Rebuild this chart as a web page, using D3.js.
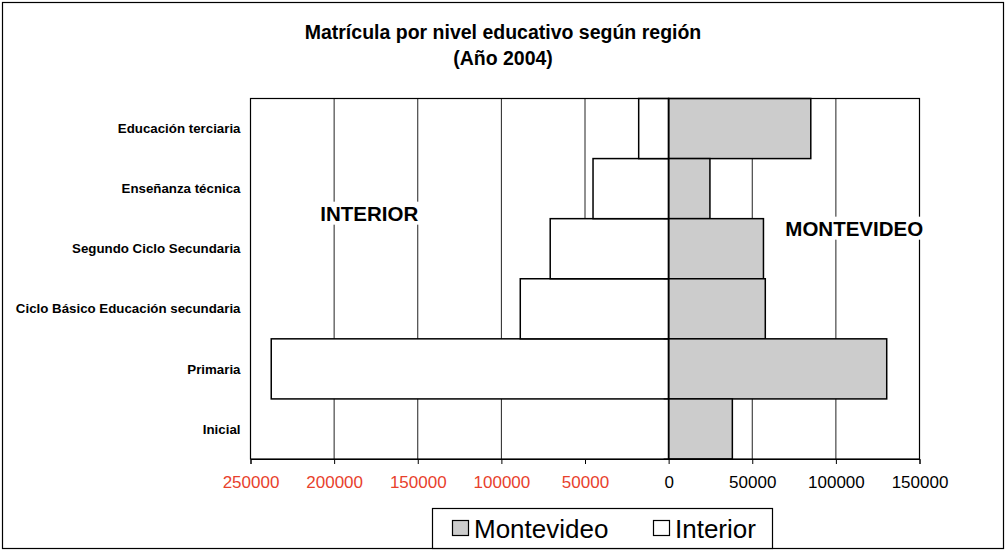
<!DOCTYPE html>
<html>
<head>
<meta charset="utf-8">
<script src="https://cdn.jsdelivr.net/npm/d3@7"></script>
<style>
  body { margin: 0; background: #fff; }
  svg { display: block; font-family: Arial, "Liberation Sans", sans-serif; }
</style>
</head>
<body>
<div id="chart"></div>
<script>
// categories, top to bottom
var niveles = ["Educación terciaria", "Enseñanza técnica", "Segundo Ciclo Secundaria",
  "Ciclo Básico Educación secundaria", "Primaria", "Inicial"];
// matricula 2004
var montevideo = [85000, 24700, 56700, 57800, 130400, 38100];
var interior = [17900, 45200, 70800, 88700, 237600, 75000];
var xTicks = [-250000, -200000, -150000, -100000, -50000, 0, 50000, 100000, 150000];

var W = 1006, H = 551;
var margin = {top: 98.5, right: 86.5, bottom: 92, left: 250.5};
var width = W - margin.left - margin.right,
    height = H - margin.top - margin.bottom;

var svg = d3.select("#chart").append("svg")
    .attr("width", W)
    .attr("height", H);

// outer frame
svg.append("rect")
    .attr("x", 2.5).attr("y", 2.5)
    .attr("width", W - 5).attr("height", H - 5)
    .attr("fill", "#fff").attr("stroke", "#000").attr("stroke-width", 1.2);

svg.append("text")
    .attr("x", 503).attr("y", 39)
    .attr("text-anchor", "middle")
    .style("font-weight", "bold").style("font-size", "19.5px")
    .text("Matrícula por nivel educativo según región");
svg.append("text")
    .attr("x", 503).attr("y", 65)
    .attr("text-anchor", "middle")
    .style("font-weight", "bold").style("font-size", "19.5px")
    .text("(Año 2004)");

var g = svg.append("g")
    .attr("transform", "translate(" + margin.left + "," + margin.top + ")");

var x = d3.scaleLinear()
    .domain([-250000, 150000])
    .range([0, width]);

var y = d3.scaleBand()
    .domain(niveles)
    .range([0, height])
    .padding(0);

// gridlines
g.selectAll(".grid")
    .data(xTicks)
    .enter().append("line")
    .attr("x1", function(d) { return x(d); })
    .attr("x2", function(d) { return x(d); })
    .attr("y1", 0).attr("y2", height)
    .attr("stroke", "#222").attr("stroke-width", 1);

// interior bars (to the left); the unoutlined one is drawn first
var intOrder = d3.range(niveles.length).sort(function(a, b) { return b - a; });
g.selectAll(".int")
    .data(intOrder)
    .enter().append("rect")
    .attr("x", function(i) { return x(-interior[i]); })
    .attr("y", function(i) { return y(niveles[i]); })
    .attr("width", function(i) { return x(0) - x(-interior[i]); })
    .attr("height", y.bandwidth())
    .attr("fill", "#fff")
    .attr("stroke", function(i) { return i == 5 ? "none" : "#000"; })
    .attr("stroke-width", 1.5);

// montevideo bars
g.selectAll(".mvd")
    .data(niveles)
    .enter().append("rect")
    .attr("x", x(0))
    .attr("y", function(d) { return y(d); })
    .attr("width", function(d, i) { return x(montevideo[i]) - x(0); })
    .attr("height", y.bandwidth())
    .attr("fill", "#cccccc")
    .attr("stroke", "#000")
    .attr("stroke-width", 1.5);

// plot frame
g.append("rect")
    .attr("width", width).attr("height", height)
    .attr("fill", "none").attr("stroke", "#000").attr("stroke-width", 1.2);

// zero line + category ticks
g.append("line")
    .attr("x1", x(0)).attr("x2", x(0))
    .attr("y1", 0).attr("y2", height)
    .attr("stroke", "#000").attr("stroke-width", 1.5);
g.selectAll(".ctick")
    .data(d3.range(niveles.length + 1))
    .enter().append("line")
    .attr("x1", x(0) - 5).attr("x2", x(0))
    .attr("y1", function(d) { return d * y.step(); })
    .attr("y2", function(d) { return d * y.step(); })
    .attr("stroke", "#000");

// category labels
g.selectAll(".clab")
    .data(niveles)
    .enter().append("text")
    .attr("x", -10)
    .attr("y", function(d) { return y(d) + y.bandwidth() / 2; })
    .attr("dy", "0.35em")
    .attr("text-anchor", "end")
    .style("font-weight", "bold").style("font-size", "13.3px")
    .text(function(d) { return d; });

// x axis
var xAxis = d3.axisBottom(x)
    .tickValues(xTicks)
    .tickSize(5)
    .tickPadding(12)
    .tickFormat(function(d) { return Math.abs(d); });
var ax = g.append("g")
    .attr("transform", "translate(0," + height + ")")
    .call(xAxis);
ax.select(".domain").attr("stroke", "#000");
ax.selectAll(".tick line").attr("stroke", "#000");
ax.selectAll(".tick text")
    .style("font-size", "17px")
    .style("font-family", "Arial, 'Liberation Sans', sans-serif")
    .attr("fill", function(d) { return d < 0 ? "#e8412c" : "#000"; });

// region labels with white backing
function regionLabel(txt, cx, cy) {
  var t = g.append("text")
      .attr("x", cx).attr("y", cy)
      .attr("text-anchor", "middle").attr("dy", "0.35em")
      .style("font-weight", "bold").style("font-size", "20.5px")
      .text(txt);
  var bb = t.node().getBBox();
  g.insert("rect", function() { return t.node(); })
      .attr("x", bb.x - 3).attr("y", bb.y)
      .attr("width", bb.width + 6).attr("height", bb.height)
      .attr("fill", "#fff");
}
regionLabel("INTERIOR", x(-179000), 115);
regionLabel("MONTEVIDEO", x(111000), 130);

// legend
var leg = svg.append("g");
leg.append("rect")
    .attr("x", 432.5).attr("y", 508.5)
    .attr("width", 340).attr("height", 40)
    .attr("fill", "#fff").attr("stroke", "#000").attr("stroke-width", 1.2);
var items = [{name: "Montevideo", fill: "#cccccc", x: 452}, {name: "Interior", fill: "#fff", x: 653}];
items.forEach(function(it) {
  leg.append("rect")
      .attr("x", it.x + 0.5).attr("y", 520.5)
      .attr("width", 16).attr("height", 15)
      .attr("fill", it.fill).attr("stroke", "#000").attr("stroke-width", 1.2);
  leg.append("text")
      .attr("x", it.x + 22).attr("y", 538)
      .style("font-size", "26px")
      .text(it.name);
});
</script>
</body>
</html>
